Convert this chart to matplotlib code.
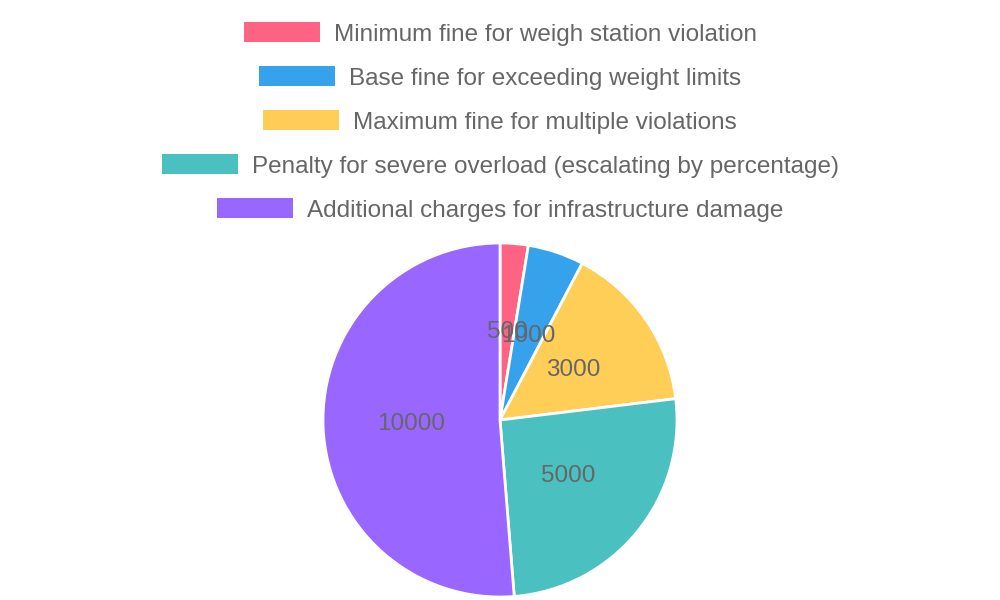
import matplotlib
matplotlib.use("Agg")
import matplotlib.pyplot as plt
from matplotlib.patches import Rectangle
import numpy as np

labels = ["Minimum fine for weigh station violation",
          "Base fine for exceeding weight limits",
          "Maximum fine for multiple violations",
          "Penalty for severe overload (escalating by percentage)",
          "Additional charges for infrastructure damage"]
values = [500, 1000, 3000, 5000, 10000]
colors = ["#FF6384", "#36A2EB", "#FFCE56", "#4BC0C0", "#9966FF"]

plt.rcParams['font.family'] = ['Liberation Sans', 'DejaVu Sans']
W, H = 1000, 600
fig = plt.figure(figsize=(10, 6), dpi=100)
ax = fig.add_axes([0.323, 0.005, 0.354, 0.59])
wedges, texts = ax.pie(values, colors=colors, startangle=90, counterclock=False,
                       wedgeprops=dict(edgecolor="white", linewidth=2))
ax.set_xlim(-1, 1)
ax.set_ylim(-1, 1)
ax.set_aspect("equal")
total = sum(values)
cum = 0
for v in values:
    mid = 90 - 360 * (cum + v / 2) / total
    cum += v
    ax.text(0.5 * np.cos(np.radians(mid)), 0.5 * np.sin(np.radians(mid)), str(v),
            ha="center", va="center", fontsize=17.5, color="#666666")

fig.canvas.draw()
r = fig.canvas.get_renderer()
ys = [32, 76, 120, 164, 208]
for lab, c, y in zip(labels, colors, ys):
    t = fig.text(0, 1 - y / H, lab, fontsize=17.5, color="#666666", va="center_baseline", ha="left")
    tw = t.get_window_extent(renderer=r).width
    tot = 76 + 14 + tw
    x0 = 500 - tot / 2
    t.set_x((x0 + 90) / W)
    fig.patches.append(Rectangle((x0 / W, 1 - (y + 10) / H), 76 / W, 20 / H,
                                 transform=fig.transFigure, facecolor=c, edgecolor="none"))
fig.savefig("out.png", dpi=100)
